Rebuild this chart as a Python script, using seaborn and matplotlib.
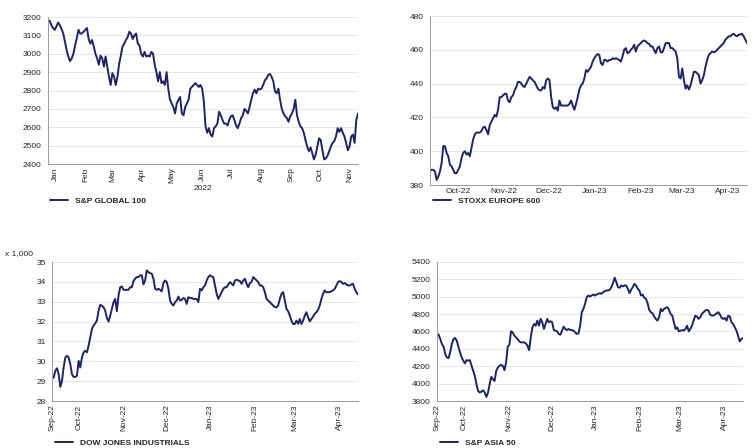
import pandas as pd
import matplotlib
matplotlib.use('Agg')
import matplotlib.pyplot as plt
import matplotlib.dates as mdates
import seaborn as sns

sns.set_theme(style='white')
plt.rcParams['font.family'] = ['Liberation Sans', 'DejaVu Sans']

LINE = '#1d2468'
GRID = '#e3e3e3'
TXT = '#262626'

# S&P Global 100, 2022
global100 = [3178, 3180, 3155, 3140, 3130, 3150, 3170, 3155, 3135, 3110, 3065, 3020, 2985, 2960, 2975,
             3000, 3045, 3085, 3130, 3110, 3110, 3120, 3130, 3140, 3080, 3055, 3075, 3040, 3000, 2975,
             2940, 2990, 2975, 2930, 2985, 2930, 2875, 2830, 2895, 2875, 2830, 2875, 2945, 2990, 3040,
             3055, 3075, 3090, 3120, 3110, 3080, 3100, 3110, 3055, 3045, 3000, 2985, 3010, 2985, 2990,
             2985, 3010, 3000, 2940, 2900, 2850, 2900, 2840, 2850, 2830, 2900, 2810, 2750, 2730, 2710,
             2675, 2730, 2750, 2765, 2675, 2665, 2710, 2730, 2750, 2810, 2820, 2830, 2840, 2830, 2820,
             2830, 2810, 2740, 2605, 2570, 2595, 2560, 2550, 2595, 2605, 2620, 2685, 2665, 2640, 2620,
             2620, 2610, 2640, 2660, 2665, 2640, 2610, 2595, 2620, 2650, 2665, 2700, 2690, 2675, 2710,
             2750, 2785, 2805, 2785, 2810, 2805, 2810, 2830, 2855, 2865, 2885, 2890, 2875, 2850, 2795,
             2785, 2810, 2750, 2700, 2675, 2660, 2650, 2630, 2660, 2675, 2700, 2750, 2665, 2630, 2605,
             2595, 2570, 2530, 2495, 2470, 2490, 2460, 2425, 2450, 2495, 2540, 2530, 2475, 2425, 2430,
             2445, 2470, 2495, 2515, 2525, 2550, 2595, 2575, 2595, 2570, 2550, 2515, 2475, 2495, 2550,
             2560, 2515, 2640, 2675]

# STOXX Europe 600
stoxx600 = [388.5, 389, 389, 388, 383, 385, 388, 393, 403, 403, 399, 397, 392, 391, 389, 387, 387, 389,
            391, 396, 399, 400, 398, 399, 397, 402, 407, 410, 411, 411, 411, 412, 414, 414.5, 412.5, 410,
            415.5, 417.5, 419.5, 421.5, 420.5, 424.5, 432, 432, 433, 434, 434, 430, 429, 432, 433, 436,
            438, 441, 441, 440, 438.5, 438, 440, 442, 444, 443, 442, 441, 439, 437, 436, 436, 438, 437,
            442, 443, 442, 432, 426, 425, 426, 424, 430, 427, 427, 427, 427, 427, 428, 430, 427, 424.5,
            428, 432, 436.5, 439, 440, 443, 448, 447, 448.5, 450, 453, 455, 456.5, 457.5, 457, 452, 451,
            454, 454, 453, 454, 454, 455, 454.5, 455, 454.5, 454, 453, 456, 460, 461, 458, 458.5, 460,
            461, 463, 459, 462, 463, 464, 465, 465.5, 465, 464, 463.5, 462, 462, 460, 458, 461, 462,
            458.5, 458.5, 461, 464, 464, 464, 461, 461, 460, 459, 455, 444, 443, 449, 442, 437, 439,
            436.5, 439, 443, 447, 447, 446, 445, 440, 442, 445, 450, 454, 457, 458, 459, 458.5, 459, 460,
            461, 462, 463, 464, 466, 467, 468, 468, 469, 469.5, 468.5, 468, 469, 469, 469.5, 468, 466, 464]

# Dow Jones Industrials, in thousands
dow = [29.15, 29.18, 29.52, 29.65, 29.35, 28.71, 29.01, 29.69, 30.19, 30.28, 30.19, 29.86, 29.35, 29.21,
       29.21, 29.27, 30.02, 29.69, 30.19, 30.45, 30.53, 30.45, 30.78, 31.2, 31.63, 31.8, 31.91, 32.05,
       32.55, 32.84, 32.8, 32.72, 32.55, 32.18, 32.0, 32.3, 32.64, 32.98, 33.14, 32.52, 33.31, 33.73,
       33.77, 33.6, 33.6, 33.6, 33.6, 33.73, 33.73, 34.04, 34.16, 34.24, 34.24, 34.33, 34.33, 33.87,
       34.07, 34.58, 34.49, 34.44, 34.41, 34.16, 33.65, 33.6, 33.65, 33.6, 33.52, 33.94, 34.07, 33.99,
       33.65, 33.06, 32.89, 32.81, 32.98, 33.06, 33.26, 33.06, 33.09, 33.19, 33.14, 32.89, 33.23, 33.19,
       33.19, 33.14, 33.14, 33.14, 32.98, 33.65, 33.57, 33.73, 33.82, 34.07, 34.24, 34.33, 34.27, 34.24,
       33.82, 33.4, 33.14, 33.31, 33.48, 33.65, 33.73, 33.73, 33.87, 33.99, 33.9, 33.82, 34.07, 34.11,
       34.07, 34.04, 33.9, 34.07, 34.16, 33.9, 33.73, 33.94, 33.99, 34.24, 34.16, 34.07, 33.99, 33.82,
       33.82, 33.73, 33.48, 33.14, 33.06, 32.98, 32.89, 32.81, 32.72, 32.72, 32.81, 33.14, 33.4, 33.48,
       33.06, 32.64, 32.52, 32.3, 32.05, 31.88, 31.88, 32.05, 31.88, 32.13, 31.88, 32.05, 32.3, 32.47,
       32.22, 32.01, 32.13, 32.25, 32.39, 32.47, 32.59, 32.81, 33.14, 33.4, 33.57, 33.48, 33.48, 33.48,
       33.53, 33.57, 33.65, 33.82, 33.99, 34.04, 33.99, 33.9, 33.94, 33.87, 33.82, 33.82, 33.87, 33.9,
       33.65, 33.48, 33.36]

# S&P Asia 50
asia50 = [4571, 4563, 4513, 4455, 4425, 4340, 4301, 4294, 4359, 4455, 4513, 4525, 4494, 4425, 4359, 4301,
          4263, 4232, 4271, 4263, 4271, 4205, 4147, 4089, 3993, 3916, 3897, 3908, 3924, 3897, 3847, 3897,
          3993, 4078, 4051, 4031, 4147, 4186, 4205, 4217, 4205, 4155, 4243, 4425, 4448, 4602, 4590, 4552,
          4533, 4513, 4486, 4475, 4475, 4475, 4463, 4436, 4386, 4533, 4648, 4687, 4667, 4725, 4667, 4745,
          4706, 4629, 4687, 4745, 4706, 4718, 4706, 4617, 4610, 4602, 4571, 4563, 4610, 4656, 4629, 4617,
          4629, 4617, 4617, 4610, 4590, 4571, 4579, 4667, 4822, 4860, 4918, 4995, 5014, 5003, 5014, 5026,
          5014, 5026, 5034, 5041, 5034, 5053, 5065, 5072, 5072, 5080, 5111, 5157, 5219, 5169, 5111, 5103,
          5130, 5119, 5130, 5130, 5092, 5041, 5080, 5111, 5149, 5130, 5092, 5072, 5014, 5026, 4988, 4976,
          4926, 4849, 4822, 4810, 4772, 4745, 4725, 4764, 4860, 4833, 4860, 4872, 4880, 4849, 4802, 4783,
          4706, 4629, 4648, 4602, 4610, 4617, 4610, 4629, 4667, 4602, 4629, 4667, 4725, 4783, 4772, 4745,
          4764, 4802, 4822, 4841, 4849, 4841, 4795, 4783, 4783, 4795, 4810, 4822, 4795, 4756, 4745, 4756,
          4725, 4783, 4772, 4706, 4687, 4648, 4610, 4552, 4486, 4513, 4525]

start22, end22 = pd.Timestamp('2022-01-07'), pd.Timestamp('2022-11-23')
start_sa, end_sa = pd.Timestamp('2022-09-12'), pd.Timestamp('2023-04-14')

df1 = pd.DataFrame({'date': pd.date_range(start22, end22, periods=len(global100)), 'value': global100})
df2 = pd.DataFrame({'date': pd.date_range(start_sa, end_sa, periods=len(stoxx600)), 'value': stoxx600})
df3 = pd.DataFrame({'date': pd.date_range(start_sa, end_sa, periods=len(dow)), 'value': dow})
df4 = pd.DataFrame({'date': pd.date_range(start_sa, end_sa, periods=len(asia50)), 'value': asia50})

W, H = 755, 448
fig = plt.figure(figsize=(W / 100, H / 100), dpi=100)


def box(x0, y0, x1, y1):
    return [x0 / W, 1 - y1 / H, (x1 - x0) / W, (y1 - y0) / H]


def style(ax, yticks):
    ax.set_ylim(yticks[0], yticks[-1])
    ax.set_yticks(yticks)
    ax.grid(axis='y', color=GRID, linewidth=0.6)
    ax.grid(axis='x', visible=False)
    for s in ['top', 'right']:
        ax.spines[s].set_visible(False)
    for s in ['left', 'bottom']:
        ax.spines[s].set_color('#9a9a9a')
        ax.spines[s].set_linewidth(0.7)
    ax.tick_params(axis='both', labelsize=6, colors=TXT, length=2, width=0.5, pad=2.5)
    ax.tick_params(axis='both', color='#9a9a9a')
    ax.set_xlabel('')
    ax.set_ylabel('')


def add_legend(ax, x, y):
    ax.legend(loc='center left', bbox_to_anchor=(x / W, 1 - y / H), bbox_transform=fig.transFigure,
              frameon=False, handlelength=2.2, borderpad=0, borderaxespad=0,
              handletextpad=0.8, prop={'weight': 'bold', 'size': 6})


# top left
ax1 = fig.add_axes(box(48, 17, 358, 164))
sns.lineplot(data=df1, x='date', y='value', ax=ax1, color=LINE, linewidth=1.4, label='S&P GLOBAL 100')
style(ax1, list(range(2400, 3201, 100)))
ax1.set_xlim(start22, end22)
ax1.xaxis.set_major_locator(mdates.MonthLocator(bymonthday=15))
ax1.xaxis.set_major_formatter(mdates.DateFormatter('%b'))
ax1.xaxis.set_minor_locator(mdates.MonthLocator(bymonthday=1))
ax1.tick_params(axis='x', which='major', length=0, rotation=90)
ax1.tick_params(axis='x', which='minor', length=2, width=0.5, color='#9a9a9a')
fig.text(203 / W, 1 - 188 / H, '2022', fontsize=6, color=TXT, ha='center', va='center')
add_legend(ax1, 50, 201)

# top right
ax2 = fig.add_axes(box(430, 16, 747, 185))
sns.lineplot(data=df2, x='date', y='value', ax=ax2, color=LINE, linewidth=1.4, label='STOXX EUROPE 600')
style(ax2, list(range(380, 481, 20)))
ax2.set_xlim(start_sa, end_sa)
ax2.xaxis.set_major_locator(mdates.MonthLocator(bymonthday=1))
ax2.xaxis.set_major_formatter(mdates.DateFormatter('%b-%y'))
ax2.tick_params(axis='x', length=0)
add_legend(ax2, 433, 201)

# bottom row ticks
month_ticks = [start_sa] + list(pd.date_range('2022-10-01', '2023-04-01', freq='MS'))

# bottom left
ax3 = fig.add_axes(box(52, 262, 358, 401))
sns.lineplot(data=df3, x='date', y='value', ax=ax3, color=LINE, linewidth=1.4, label='DOW JONES INDUSTRIALS')
style(ax3, list(range(28, 36)))
ax3.set_xlim(start_sa, end_sa)
ax3.set_xticks(month_ticks)
ax3.xaxis.set_major_formatter(mdates.DateFormatter('%b-%y'))
ax3.xaxis.set_minor_locator(mdates.WeekdayLocator(byweekday=0))
ax3.tick_params(axis='x', which='major', length=0, rotation=90)
ax3.tick_params(axis='x', which='minor', length=1.5, width=0.5, color='#9a9a9a')
fig.text(5 / W, 1 - 254 / H, 'x 1,000', fontsize=6, color=TXT, ha='left', va='center')
add_legend(ax3, 55, 443)

# bottom right
ax4 = fig.add_axes(box(437, 262, 743, 401))
sns.lineplot(data=df4, x='date', y='value', ax=ax4, color=LINE, linewidth=1.4, label='S&P ASIA 50')
style(ax4, list(range(3800, 5401, 200)))
ax4.set_xlim(start_sa, end_sa)
ax4.set_xticks(month_ticks)
ax4.xaxis.set_major_formatter(mdates.DateFormatter('%b-%y'))
ax4.xaxis.set_minor_locator(mdates.WeekdayLocator(byweekday=0))
ax4.tick_params(axis='x', which='major', length=0, rotation=90)
ax4.tick_params(axis='x', which='minor', length=1.5, width=0.5, color='#9a9a9a')
add_legend(ax4, 440, 443)

fig.savefig('out.png', dpi=100, facecolor='white')
